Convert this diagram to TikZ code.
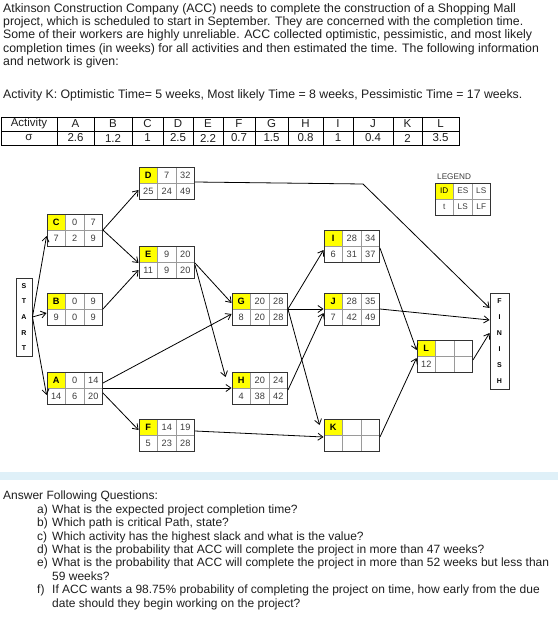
\documentclass[tikz,border=0pt]{standalone}
\usepackage{fontspec}
\setmainfont{Liberation Sans}
\usepackage{xcolor}
\usepackage{tikz}
\usetikzlibrary{arrows.meta}

\definecolor{idyellow}{HTML}{FFFF00}
\definecolor{cellgray}{HTML}{9A9A9A}
\definecolor{numgray}{HTML}{3C3C3C}
\definecolor{textblack}{HTML}{1E1E1E}
\definecolor{bandblue}{HTML}{DFF0F8}

\tikzset{
  boxframe/.style={draw=black!80,line width=0.9pt,minimum width=55.5pt,minimum height=32pt,inner sep=0pt},
  idtext/.style={font=\fontsize{9.2}{10}\selectfont\bfseries},
  celltext/.style={font=\fontsize{9.2}{10}\selectfont,text=numgray},
  endbox/.style={draw=black!80,line width=0.9pt,inner sep=0pt,align=center,font=\fontsize{7}{15.6}\selectfont\bfseries},
  link/.style={line width=0.8pt,-{Straight Barb[length=5pt,width=7pt]}},
  para/.style={anchor=north west,inner sep=0pt,align=left,text=textblack,font=\fontsize{12.3}{13.3}\selectfont},
  tabtext/.style={font=\fontsize{11.5}{12}\selectfont,text=textblack}
}

\newcommand{\actbox}[9]{%
  \begin{scope}[shift={(#2,#3)}]
    \fill[idyellow] (0,0) rectangle (18.5,16);
    \draw[cellgray,line width=0.6pt] (18.5,0) -- (18.5,32) (37,0) -- (37,32) (0,16) -- (55.5,16);
    \node[boxframe] (#1) at (27.75,16) {};
    \node[idtext] (#1-id) at (9.25,8) {#4};
    \node[celltext] (#1-es) at (27.75,8) {#5};
    \node[celltext] (#1-ls) at (46.25,8) {#6};
    \node[celltext] (#1-t) at (9.25,24) {#7};
    \node[celltext] (#1-m) at (27.75,24) {#8};
    \node[celltext] (#1-r) at (46.25,24) {#9};
  \end{scope}}

\begin{document}
\begin{tikzpicture}[x=1pt,y=-1pt]
\useasboundingbox (0,0) rectangle (558,620);

\node[para] (intro) at (3,3) {Atkinson Construction Company (ACC) needs to complete the construction of a Shopping Mall\\
project, which is scheduled to start in September. They are concerned with the completion time.\\
Some of their workers are highly unreliable. ACC collected optimistic, pessimistic, and most likely\\
completion times (in weeks) for all activities and then estimated the time. The following information\\
and network is given:};
\node[para] (actK) at (3,89) {Activity K: Optimistic Time= 5 weeks, Most likely Time = 8 weeks, Pessimistic Time = 17 weeks.};

\draw[line width=0.6pt] (1,117) rectangle (459,145) (1,131) -- (459,131);
\node[tabtext] (acthead) at (29,124) {Activity};
\node[tabtext] (sighead) at (29,138) {σ};
\foreach \l/\r/\act/\sig in {57/94/A/2.6, 94/132/B/1.2, 132/163/C/1, 163/193/D/2.5,
  193/223/E/2.2, 223/255/F/0.7, 255/288/G/1.5, 288/323/H/0.8, 323/353/I/1,
  353/393/J/0.4, 393/422/K/2, 422/459/L/3.5}{
  \draw[line width=0.6pt] (\l,117) -- (\l,145);
  \node[tabtext] (act\act) at ({(\l+\r)/2},124) {\act};
  \node[tabtext] (sig\act) at ({(\l+\r)/2},138) {\sig};
}

\node[endbox,minimum width=16pt,minimum height=78pt] (start) at (24,317) {S\\T\\A\\R\\T};
\node[endbox,minimum width=19pt,minimum height=96pt,font=\fontsize{7}{16}\selectfont\bfseries] (finish) at (499.5,341) {F\\I\\N\\I\\S\\H};

\actbox{C}{47}{214}{C}{0}{7}{7}{2}{9}
\actbox{B}{47}{293}{B}{0}{9}{9}{0}{9}
\actbox{A}{47}{372}{A}{0}{14}{14}{6}{20}
\actbox{D}{139}{167}{D}{7}{32}{25}{24}{49}
\actbox{E}{139}{246}{E}{9}{20}{11}{9}{20}
\actbox{F}{139}{419}{F}{14}{19}{5}{23}{28}
\actbox{G}{232}{293}{G}{20}{28}{8}{20}{28}
\actbox{H}{232}{372}{H}{20}{24}{4}{38}{42}
\actbox{I}{324}{230}{I}{28}{34}{6}{31}{37}
\actbox{J}{324}{293}{J}{28}{35}{7}{42}{49}
\actbox{K}{324}{419}{K}{}{}{}{}{}
\actbox{L}{417}{340}{L}{}{}{12}{}{}

\node[anchor=west,inner sep=0pt,font=\fontsize{8.2}{9}\selectfont,text=numgray] (legendlabel) at (437,177) {LEGEND};
\begin{scope}[idtext/.style={font=\fontsize{8.2}{9}\selectfont},celltext/.style={font=\fontsize{8.2}{9}\selectfont,text=numgray}]
\actbox{legend}{435}{183}{ID}{ES}{LS}{t}{LS}{LF}
\end{scope}

\coordinate (dbend) at (363,184);

\draw[link] (start.east) -- ([yshift=-6pt]C.west);
\draw[link] (start.east) -- ([yshift=-4pt]B.west);
\draw[link] (start.east) -- ([yshift=-7pt]A.west);
\draw[link] (C.east) -- ([yshift=-7pt]D.west);
\draw[link] (C.east) -- ([yshift=-1pt]E.west);
\draw[link] (B.east) -- ([yshift=-8pt]E.west);
\draw[link] ([yshift=1pt]D.east) -- (dbend) -- ([yshift=33pt]finish.west);
\draw[link] ([yshift=-1pt]E.east) -- ([yshift=6pt]G.west);
\draw[link] ([yshift=-3pt]E.east) -- ([xshift=-6pt,yshift=11pt]H.west);
\draw[link] ([yshift=5pt]A.east) -- ([yshift=-5pt]G.west);
\draw[link] (A.east) -- (H.west);
\draw[link] ([yshift=-5pt]A.east) -- ([yshift=5pt]F.west);
\draw[link] ([yshift=4pt]F.east) -- ([yshift=-2pt]K.west);
\draw[link] (G.east) -- ([yshift=-4pt]I.west);
\draw[link] (G.east) -- (J.west);
\draw[link] (G.east) -- ([xshift=-4pt,yshift=10pt]K.west);
\draw[link] ([yshift=-2pt]H.east) -- ([yshift=-4pt]J.west);
\draw[link] ([yshift=-2pt]I.east) -- ([yshift=6pt]L.west);
\draw[link] ([yshift=-2pt]K.east) -- ([yshift=-2pt]L.west);
\draw[link] (J.east) -- ([yshift=21pt]finish.west);
\draw[link] ([yshift=-4pt]L.east) -- ([yshift=8pt]finish.west);

\fill[bandblue] (0,472) rectangle (558,480);

\node[para,font=\fontsize{12}{13.4}\selectfont] (questions) at (3,491) {Answer Following Questions:\\
\hspace*{34pt}\makebox[15pt][l]{a)}What is the expected project completion time?\\
\hspace*{34pt}\makebox[15pt][l]{b)}Which path is critical Path, state?\\
\hspace*{34pt}\makebox[15pt][l]{c)}Which activity has the highest slack and what is the value?\\
\hspace*{34pt}\makebox[15pt][l]{d)}What is the probability that ACC will complete the project in more than 47 weeks?\\
\hspace*{34pt}\makebox[15pt][l]{e)}What is the probability that ACC will complete the project in more than 52 weeks but less than\\
\hspace*{49pt}59 weeks?\\
\hspace*{34pt}\makebox[15pt][l]{f)}If ACC wants a 98.75\% probability of completing the project on time, how early from the due\\
\hspace*{49pt}date should they begin working on the project?};
\end{tikzpicture}
\end{document}
